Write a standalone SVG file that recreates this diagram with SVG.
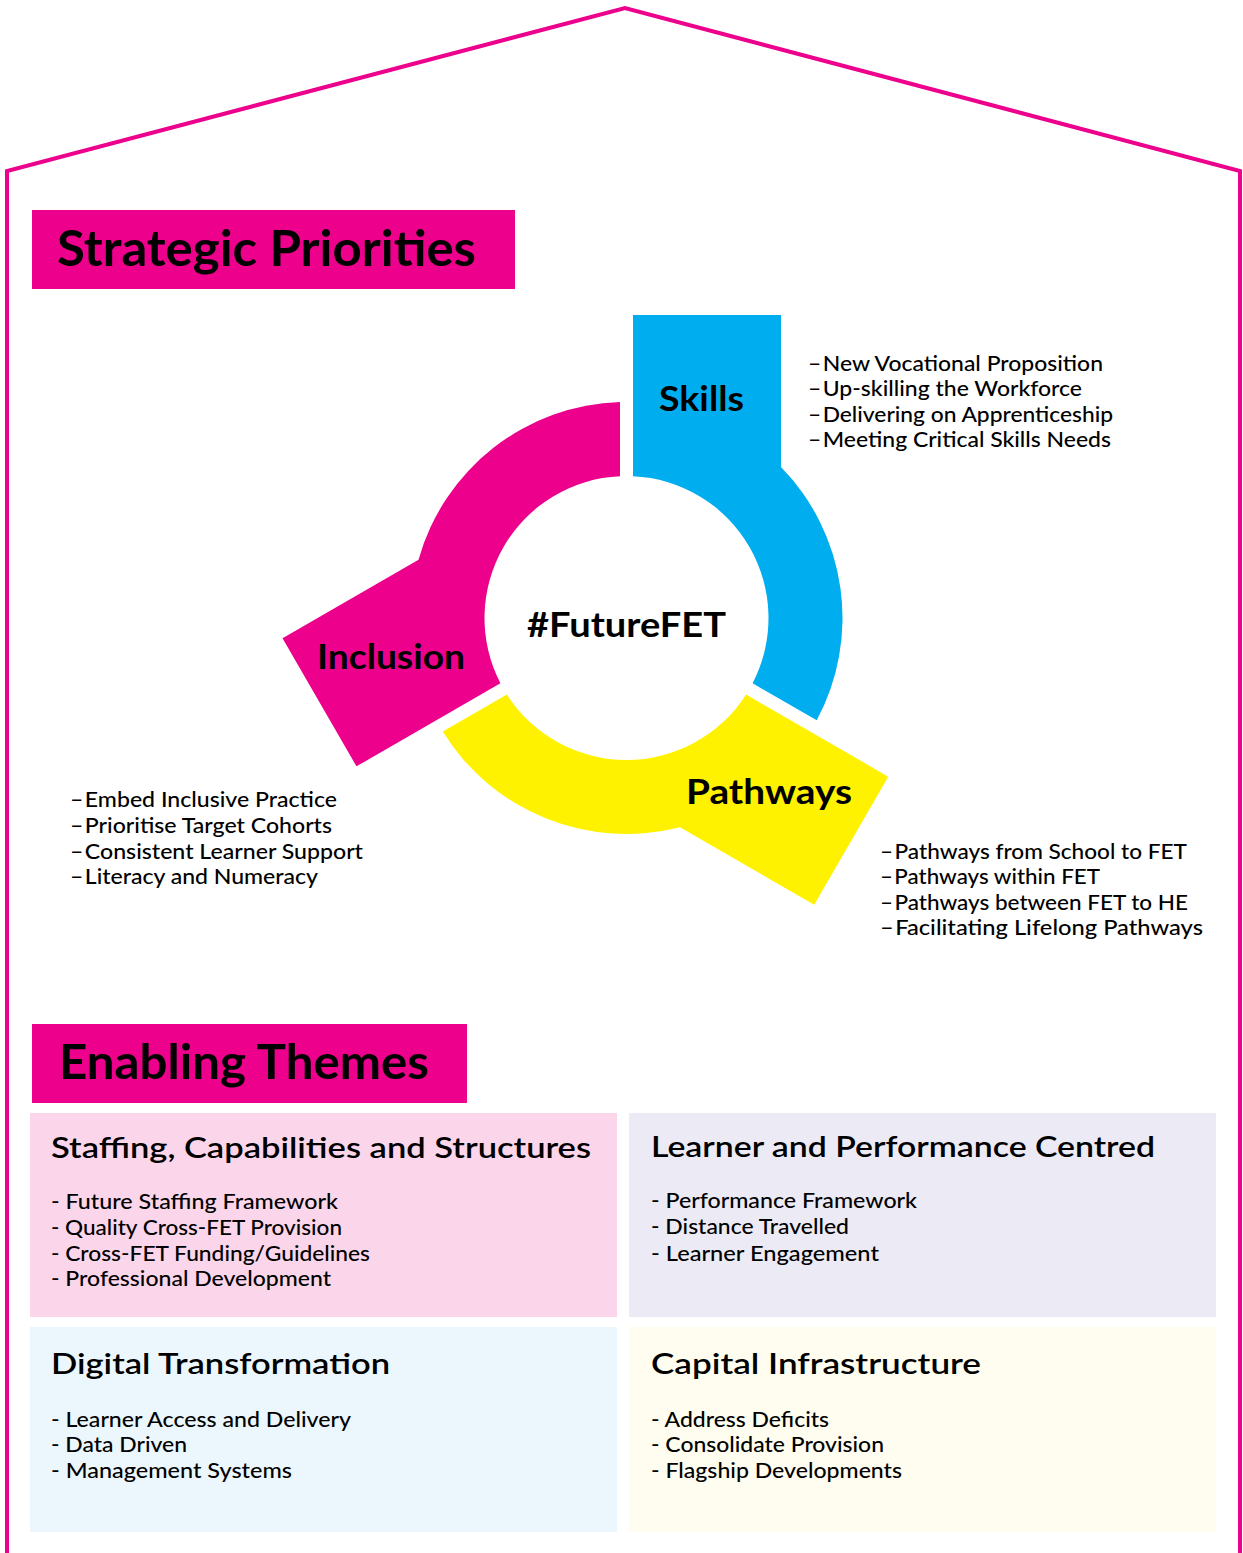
<svg xmlns="http://www.w3.org/2000/svg" width="1243" height="1553" viewBox="0 0 1243 1553">
<style>
.h{font-family:Lato,"Open Sans","Liberation Sans",sans-serif;font-weight:700;fill:#000}
.seg{font-family:Lato,"Open Sans","Liberation Sans",sans-serif;font-weight:700;font-size:34px;fill:#000}
.t{font-family:Lato,"Open Sans","Liberation Sans",sans-serif;font-weight:600;font-size:29px;fill:#000}
.li{font-family:Lato,"Open Sans","Liberation Sans",sans-serif;font-weight:500;font-size:21px;fill:#000}
.pink{fill:#EC008C}
</style>
<g id="house">
<polyline points="7,1553 7,171 625,8 1240,171 1240,1553" fill="none" stroke="#EC008C" stroke-width="4"/>
</g>
<g id="strategic-priorities">
<rect x="32" y="210" width="483" height="79" class="pink"/>
<text x="57" y="266" class="h" font-size="50" textLength="419" lengthAdjust="spacingAndGlyphs">Strategic Priorities</text>
</g>
<g id="skills">
<path transform="translate(626.5,618)" fill="#00AEEF" d="M6.5,-141.85 L6.5,-303 L154.5,-303 L154.5,-150.95 A216,216 0 0 1 190.22,102.32 L126.09,65.3 A142,142 0 0 0 6.5,-141.85 Z"/>
<text x="659" y="411" class="seg" textLength="85" lengthAdjust="spacingAndGlyphs">Skills</text>
</g>
<g id="pathways">
<path transform="translate(626.5,618) rotate(120)" fill="#FFF200" d="M6.5,-141.85 L6.5,-306 L154.5,-306 L154.5,-150.95 A216,216 0 0 1 190.22,102.32 L126.09,65.3 A142,142 0 0 0 6.5,-141.85 Z"/>
<text x="686" y="804" class="seg" textLength="166" lengthAdjust="spacingAndGlyphs">Pathways</text>
</g>
<g id="inclusion">
<path transform="translate(626.5,618) rotate(240)" fill="#EC008C" d="M6.5,-141.85 L6.5,-308 L154.5,-308 L154.5,-150.95 A216,216 0 0 1 190.22,102.32 L126.09,65.3 A142,142 0 0 0 6.5,-141.85 Z"/>
<text x="317" y="669" class="seg" textLength="148" lengthAdjust="spacingAndGlyphs">Inclusion</text>
</g>
<g id="futurefet">
<text x="527" y="637" class="seg" textLength="199" lengthAdjust="spacingAndGlyphs">#FutureFET</text>
</g>
<g id="skills-list" class="li">
<text x="808" y="371" textLength="295" lengthAdjust="spacingAndGlyphs">–&#8202;New Vocational Proposition</text>
<text x="808" y="396" textLength="274" lengthAdjust="spacingAndGlyphs">–&#8202;Up-skilling the Workforce</text>
<text x="808" y="422" textLength="305" lengthAdjust="spacingAndGlyphs">–&#8202;Delivering on Apprenticeship</text>
<text x="808" y="447" textLength="303" lengthAdjust="spacingAndGlyphs">–&#8202;Meeting Critical Skills Needs</text>
</g>
<g id="inclusion-list" class="li">
<text x="70" y="807" textLength="267" lengthAdjust="spacingAndGlyphs">–&#8202;Embed Inclusive Practice</text>
<text x="70" y="833" textLength="262" lengthAdjust="spacingAndGlyphs">–&#8202;Prioritise Target Cohorts</text>
<text x="70" y="859" textLength="293" lengthAdjust="spacingAndGlyphs">–&#8202;Consistent Learner Support</text>
<text x="70" y="884" textLength="248" lengthAdjust="spacingAndGlyphs">–&#8202;Literacy and Numeracy</text>
</g>
<g id="pathways-list" class="li">
<text x="880" y="859" textLength="307" lengthAdjust="spacingAndGlyphs">–&#8202;Pathways from School to FET</text>
<text x="880" y="884" textLength="220" lengthAdjust="spacingAndGlyphs">–&#8202;Pathways within FET</text>
<text x="880" y="910" textLength="308" lengthAdjust="spacingAndGlyphs">–&#8202;Pathways between FET to HE</text>
<text x="880" y="935" textLength="323" lengthAdjust="spacingAndGlyphs">–&#8202;Facilitating Lifelong Pathways</text>
</g>
<g id="enabling-themes">
<rect x="32" y="1024" width="435" height="79" class="pink"/>
<text x="59" y="1079" class="h" font-size="48" textLength="370" lengthAdjust="spacingAndGlyphs">Enabling Themes</text>
</g>
<g id="staffing">
<rect x="30" y="1113" width="587" height="204" fill="#FBD6EB"/>
<text x="51" y="1158" class="t" textLength="540" lengthAdjust="spacingAndGlyphs">Staffing, Capabilities and Structures</text>
<text x="51" y="1209" class="li" textLength="287" lengthAdjust="spacingAndGlyphs">- Future Staffing Framework</text>
<text x="51" y="1235" class="li" textLength="291" lengthAdjust="spacingAndGlyphs">- Quality Cross-FET Provision</text>
<text x="51" y="1261" class="li" textLength="319" lengthAdjust="spacingAndGlyphs">- Cross-FET Funding/Guidelines</text>
<text x="51" y="1286" class="li" textLength="280" lengthAdjust="spacingAndGlyphs">- Professional Development</text>
</g>
<g id="learner">
<rect x="629" y="1113" width="587" height="204" fill="#ECEAF4"/>
<text x="651" y="1157" class="t" textLength="504" lengthAdjust="spacingAndGlyphs">Learner and Performance Centred</text>
<text x="651" y="1208" class="li" textLength="266" lengthAdjust="spacingAndGlyphs">- Performance Framework</text>
<text x="651" y="1234" class="li" textLength="198" lengthAdjust="spacingAndGlyphs">- Distance Travelled</text>
<text x="651" y="1261" class="li" textLength="228" lengthAdjust="spacingAndGlyphs">- Learner Engagement</text>
</g>
<g id="digital">
<rect x="30" y="1327" width="587" height="205" fill="#ECF7FD"/>
<text x="51" y="1374" class="t" textLength="339" lengthAdjust="spacingAndGlyphs">Digital Transformation</text>
<text x="51" y="1427" class="li" textLength="300" lengthAdjust="spacingAndGlyphs">- Learner Access and Delivery</text>
<text x="51" y="1452" class="li" textLength="136" lengthAdjust="spacingAndGlyphs">- Data Driven</text>
<text x="51" y="1478" class="li" textLength="241" lengthAdjust="spacingAndGlyphs">- Management Systems</text>
</g>
<g id="capital">
<rect x="629" y="1327" width="587" height="205" fill="#FEFDF0"/>
<text x="651" y="1374" class="t" textLength="330" lengthAdjust="spacingAndGlyphs">Capital Infrastructure</text>
<text x="651" y="1427" class="li" textLength="178" lengthAdjust="spacingAndGlyphs">- Address Deficits</text>
<text x="651" y="1452" class="li" textLength="233" lengthAdjust="spacingAndGlyphs">- Consolidate Provision</text>
<text x="651" y="1478" class="li" textLength="251" lengthAdjust="spacingAndGlyphs">- Flagship Developments</text>
</g>
</svg>
